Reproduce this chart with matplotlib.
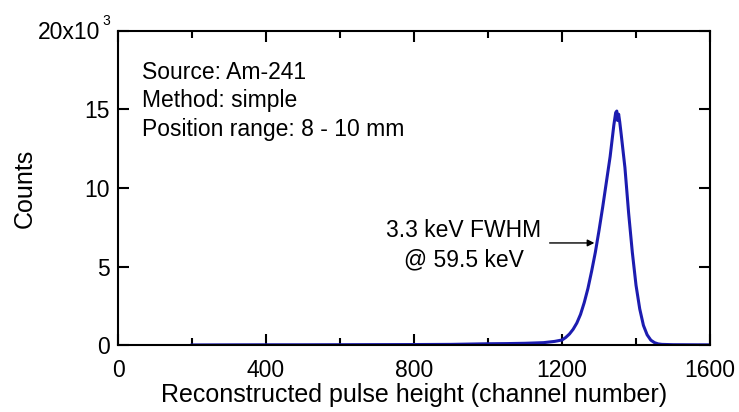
import numpy as np
import matplotlib.pyplot as plt

plt.rcParams["font.family"] = ["Liberation Sans", "DejaVu Sans"]

# Espectro de Am-241 (canal vs cuentas)
canales = [200, 300, 400, 500, 600, 700, 800, 900, 950, 1000, 1050, 1100, 1150, 1180,
           1200, 1210, 1220, 1230, 1240, 1250, 1260, 1270, 1280, 1290, 1300, 1310, 1320,
           1330, 1335, 1340, 1345, 1348, 1350, 1353, 1356, 1360, 1370, 1380, 1390, 1400,
           1410, 1420, 1430, 1440, 1450, 1460, 1470, 1500, 1600]
cuentas = [5, 10, 15, 15, 20, 25, 30, 40, 60, 80, 90, 110, 150, 230,
           320, 480, 700, 1000, 1400, 1950, 2700, 3600, 4700, 5900, 7300, 8800, 10400,
           12000, 13000, 14000, 14800, 14900, 14300, 14700, 14200, 13400, 11300, 8400, 5900, 3800,
           2300, 1250, 650, 310, 150, 70, 40, 20, 10]

xticks = [0, 400, 800, 1200, 1600]
yticks = [0, 5000, 10000, 15000, 20000]
ytick_labels = ["0", "5", "10", "15", ""]

fig = plt.figure(figsize=(7.39, 4.12), dpi=100)
ax = fig.add_axes([0.1597, 0.1626, 0.8011, 0.7622])

ax.plot(canales, cuentas, color="#1c1cb0", linewidth=2.2)

ax.set_xlim(0, 1600)
ax.set_ylim(0, 20000)
ax.set_xticks(xticks)
ax.set_xticks([200, 600, 1000, 1400], minor=True)
ax.set_yticks(yticks)
ax.set_yticklabels(ytick_labels)

for s in ax.spines.values():
    s.set_linewidth(1.5)
ax.tick_params(which="both", direction="in", top=True, right=True, width=1.5,
               labelsize=16.5)
ax.tick_params(axis="x", pad=10)
ax.tick_params(axis="y", pad=6)
ax.tick_params(which="major", length=8)
ax.tick_params(which="minor", length=5)

ax.set_xlabel("Reconstructed pulse height (channel number)", fontsize=18, labelpad=1)
ax.set_ylabel("Counts", fontsize=18, labelpad=34)

# multiplicador del eje y
fig.text(0.136, 0.905, "20x10", fontsize=16.5, ha="right", va="baseline")
fig.text(0.1385, 0.94, "3", fontsize=10, ha="left", va="baseline")

ax.text(0.04, 0.905, "Source: Am-241\nMethod: simple\nPosition range: 8 - 10 mm",
        transform=ax.transAxes, fontsize=16.5, va="top", ha="left", linespacing=1.3)

ax.annotate("", xy=(1295, 6500), xytext=(1159, 6500),
            arrowprops=dict(arrowstyle="-|>", color="black", lw=1, mutation_scale=10))
ax.text(935, 6330, "3.3 keV FWHM\n@ 59.5 keV", fontsize=16.5, ha="center", va="center",
        linespacing=1.35)

plt.savefig("out.png", dpi=100)
